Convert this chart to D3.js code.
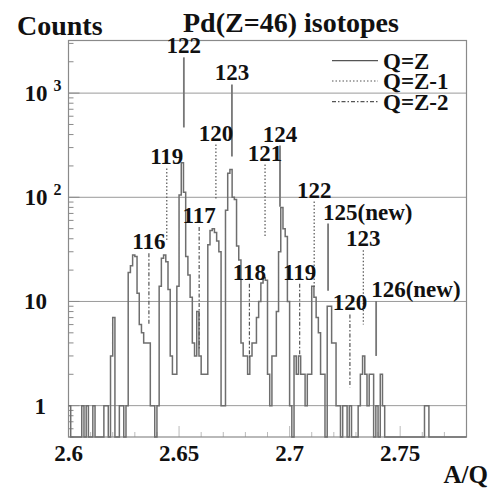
<!DOCTYPE html>
<html>
<head>
<meta charset="utf-8">
<script src="https://cdn.jsdelivr.net/npm/d3@7"></script>
<style>
  body { margin: 0; background: #fff; }
  text { font-family: "Liberation Serif", "DejaVu Serif", serif; font-weight: bold; fill: #111; }
</style>
</head>
<body>
<div id="chart"></div>
<script>
// histogram of A/Q, bins of 0.001 starting at 2.6
var binStart = 2.6;
var binWidth = 0.001;
var counts = [
  1,0,0,0,0,0,1,0,1,0,
  0,1,0,0,0,0,1,1,0,3,
  7,0,0,1,1,0,1,19,22,28,
  27,12,6,5,4,4,4,1,1,0,
  1,14,26,28,24,13,3,2,2,14,
  105,215,112,27,18,11,4,3,8,3,
  2,2,2,35,48,50,46,38,30,1,
  1,75,170,185,100,95,34,25,4,3,
  3,2,3,4,4,7,10,15,17,16,
  2,1,3,3,8,30,80,50,42,10,
  1,0,3,2,3,2,2,1,2,2,
  14,11,7,5,2,2,0,9,9,4,
  4,1,1,0,1,1,0,1,0,0,
  0,1,2,3,2,1,2,2,0,1,
  0,2,1,0,0,0,0,0,0,0,
  0,0,0,0,0,0,0,0,0,0,
  0,1,1,0,0,0,0,0,0,0,
  0,0,0,0,0,0,0,0,0,0
];

// isotope markers: mass, charge, line top/bottom (counts)
var markMass   = [122, 123, 124, 125, 126, 119, 120, 121, 122, 123, 116, 117, 118, 119, 120];
var markCharge = [46, 46, 46, 46, 46, 45, 45, 45, 45, 45, 44, 44, 44, 44, 44];
var markTop    = [2205, 1213, 314, 56, 10.1, 189, 321, 206, 91, 31, 29, 52, 14.8, 14.8, 7.5];
var markBot    = [468, 246, 81, 12.7, 3.0, 39, 95, 42, 13.5, 6.0, 6.0, 3.4, 2.9, 3.1, 1.5];
var markNew    = [125, 126];

var legendLabels = ["Q=Z", "Q=Z-1", "Q=Z-2"];
var xTicks = [2.6, 2.65, 2.7, 2.75];
var yTicks = [1, 10, 100, 1000];

var W = 500, H = 491;
var svg = d3.select("#chart").append("svg").attr("width", W).attr("height", H);

var x = d3.scaleLinear().domain([2.6, 2.78]).range([68.5, 466.5]);
var y = d3.scaleLog().domain([0.5, 3200]).range([437, 40.5]);

var gridColor = "#9a9a9a";
var frameColor = "#8a8a8a";

// grid
svg.append("g").selectAll("line").data(yTicks).enter().append("line")
  .attr("x1", x.range()[0]).attr("x2", x.range()[1])
  .attr("y1", d => y(d)).attr("y2", d => y(d))
  .attr("stroke", gridColor).attr("stroke-width", 1);

// y ticks (inside)
var yMinor = [];
[0.1, 1, 10, 100, 1000].forEach(function(dec) {
  for (var k = 1; k < 10; k++) {
    var v = dec * k;
    if (v >= 0.5 && v <= 3200) yMinor.push(v);
  }
});
svg.append("g").selectAll("line").data(yMinor).enter().append("line")
  .attr("x1", x.range()[0]).attr("x2", d => x.range()[0] + (yTicks.includes(d) ? 11 : 5))
  .attr("y1", d => y(d)).attr("y2", d => y(d))
  .attr("stroke", frameColor).attr("stroke-width", 1);

// x ticks
var xMinor = d3.range(0, 19).map(i => 2.6 + i * 0.01);
svg.append("g").selectAll("line").data(xMinor).enter().append("line")
  .attr("x1", d => x(d)).attr("x2", d => x(d))
  .attr("y1", y.range()[0]).attr("y2", (d, i) => y.range()[0] - (i % 5 === 0 ? 11 : 5))
  .attr("stroke", "#bbb").attr("stroke-width", 1);

// frame
svg.append("rect")
  .attr("x", x.range()[0]).attr("y", y.range()[1])
  .attr("width", x.range()[1] - x.range()[0]).attr("height", y.range()[0] - y.range()[1])
  .attr("fill", "none").attr("stroke", frameColor).attr("stroke-width", 1.2);

// histogram step outline
var pts = counts.map((c, i) => [binStart + i * binWidth, c]);
pts.push([binStart + counts.length * binWidth, counts[counts.length - 1]]);
var step = d3.line()
  .x(d => x(d[0]))
  .y(d => d[1] > 0 ? y(d[1]) : y.range()[0])
  .curve(d3.curveStepAfter);
svg.append("path").datum(pts)
  .attr("d", step)
  .attr("fill", "none").attr("stroke", "#6e6e6e").attr("stroke-width", 1.5);

// marker lines and labels
var dashes = { 46: null, 45: "1.5,2", 44: "4,2,1.5,2" };
markMass.forEach(function(m, i) {
  var q = markCharge[i];
  var xv = x(m / q);
  svg.append("line")
    .attr("x1", xv).attr("x2", xv)
    .attr("y1", y(markTop[i])).attr("y2", y(markBot[i]))
    .attr("stroke", q === 46 ? "#777" : "#555")
    .attr("stroke-width", q === 46 ? 1.8 : 1.2)
    .attr("stroke-dasharray", dashes[q]);
  var isNew = q === 46 && markNew.includes(m);
  svg.append("text")
    .attr("x", isNew ? xv - 5 : xv)
    .attr("y", y(markTop[i]) - 4)
    .attr("text-anchor", isNew ? "start" : "middle")
    .attr("font-size", 23)
    .text(isNew ? m + "(new)" : m);
});

// y labels
yTicks.forEach(function(v) {
  var t = svg.append("text")
    .attr("y", y(v) + 8)
    .attr("font-size", 23);
  if (v === 1) {
    t.attr("x", 46).attr("text-anchor", "end").text("1");
  } else if (v === 10) {
    t.attr("x", 47).attr("text-anchor", "end").text("10");
  } else {
    t.attr("x", 24.5).attr("text-anchor", "start").text("10");
    t.append("tspan").attr("dx", 6).attr("dy", -10).attr("font-size", 16)
      .text(Math.round(Math.log10(v)));
  }
});

// x labels
svg.append("g").selectAll("text").data(xTicks).enter().append("text")
  .attr("x", d => x(d)).attr("y", 461)
  .attr("text-anchor", "middle").attr("font-size", 23)
  .text(d => d);

// axis titles
svg.append("text").attr("x", 488).attr("y", 483).attr("text-anchor", "end")
  .attr("font-size", 25).text("A/Q");
svg.append("text").attr("x", 17).attr("y", 35).attr("font-size", 28).text("Counts");
svg.append("text").attr("x", 183).attr("y", 32).attr("font-size", 28).text("Pd(Z=46) isotopes");

// legend
var legY = [60.7, 81, 101.7];
var legDash = [null, "1.5,2", "4,2,1.5,2"];
legendLabels.forEach(function(l, i) {
  svg.append("line")
    .attr("x1", 332).attr("x2", 378)
    .attr("y1", legY[i]).attr("y2", legY[i])
    .attr("stroke", "#555").attr("stroke-width", 1.2)
    .attr("stroke-dasharray", legDash[i]);
  svg.append("text").attr("x", 383).attr("y", legY[i] + 8)
    .attr("font-size", 23).text(l);
});
</script>
</body>
</html>
